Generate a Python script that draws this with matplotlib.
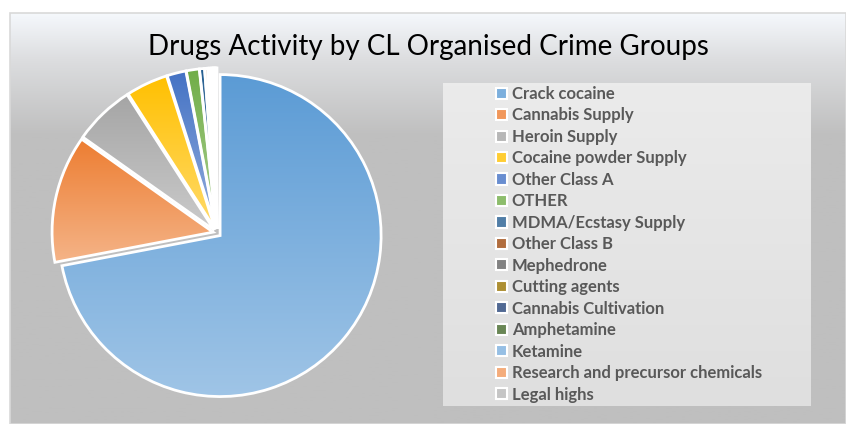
import matplotlib
matplotlib.use('Agg')

import matplotlib.pyplot as plt
from matplotlib.colors import to_rgb
from matplotlib.patches import Rectangle
import numpy as np

# data
categories = [
    "Crack cocaine", "Cannabis Supply", "Heroin Supply", "Cocaine powder Supply",
    "Other Class A", "OTHER", "MDMA/Ecstasy Supply", "Other Class B", "Mephedrone",
    "Cutting agents", "Cannabis Cultivation", "Amphetamine", "Ketamine",
    "Research and precursor chemicals", "Legal highs",
]
counts = [720, 128, 61, 42, 19, 13, 5, 3, 2, 2, 1, 1, 1, 1, 1]

colors = ['#5B9BD5', '#ED7D31', '#A5A5A5', '#FFC000', '#4472C4', '#70AD47',
          '#255E91', '#9E480E', '#636363', '#997300', '#264478', '#43682B',
          '#7CAFDD', '#F1975A', '#B7B7B7']

W, H = 846, 424
FONT = ['Lato', 'DejaVu Sans']


def lighten(c, amt):
    r = np.array(to_rgb(c))
    return r + (1 - r) * amt


fig = plt.figure(figsize=(W / 100, H / 100), dpi=100)

# background in pixel coordinates
bg = fig.add_axes([0, 0, 1, 1])
bg.set_xlim(0, W)
bg.set_ylim(H, 0)
bg.axis('off')

ys = np.linspace(13, H, 300)
stops_y = [13, 60, 135, H]
stops_c = np.array([to_rgb('#F5F8FC'), to_rgb('#DCDDDF'), to_rgb('#BFBFBF'), to_rgb('#BFBFBF')])
grad = np.stack([np.interp(ys, stops_y, stops_c[:, k]) for k in range(3)], axis=-1)[:, None, :]
bg.imshow(grad, extent=(10, W, H, 13), aspect='auto', origin='upper', zorder=0)
bg.add_patch(Rectangle((10, 13), W - 10, H - 13, fill=False, edgecolor='#D9D9D9', lw=1.2, zorder=1))

# legend panel
lg = np.linspace(0, 1, 100)
lgrad = (np.outer(1 - lg, to_rgb('#EBEBEB')) + np.outer(lg, to_rgb('#DFDFDF')))[:, None, :]
bg.imshow(lgrad, extent=(443, 811, 406, 83), aspect='auto', origin='upper', zorder=2)

bg.text(428, 47, "Drugs Activity by CL Organised Crime Groups", ha='center', va='center',
        fontsize=20, family=FONT, color='#000000')

# pie
cx, cy, r = 217, 233, 161
lim = 1.06
ax = fig.add_axes([(cx - r * lim) / W, (H - cy - r * lim) / H, 2 * r * lim / W, 2 * r * lim / H])
wedges, _ = ax.pie(counts, colors=colors, startangle=90, counterclock=False,
                   explode=[0.025] * len(counts),
                   wedgeprops=dict(edgecolor='white', linewidth=2.0))

for w, c in zip(wedges, colors):
    v = w.get_path().vertices
    y0, y1 = v[:, 1].min(), v[:, 1].max()
    t = np.linspace(0, 1, 200)
    g = (np.outer(1 - t, lighten(c, 0.0)) + np.outer(t, lighten(c, 0.42)))[:, None, :]
    im = ax.imshow(g, extent=(-lim, lim, y0, y1), aspect='auto', origin='upper', zorder=1)
    im.set_clip_path(w)
    w.set_facecolor('none')
    w.set_zorder(2)

ax.set_xlim(-lim, lim)
ax.set_ylim(-lim, lim)
ax.set_aspect('equal')
ax.axis('off')

handles = [Rectangle((0, 0), 1, 1, facecolor=lighten(c, 0.2), edgecolor='white', lw=1.5)
           for c in colors]
fig.legend(handles, categories, loc='upper left', bbox_to_anchor=(496 / W, 1 - 86 / H),
           frameon=False, prop={'family': FONT, 'size': 12, 'weight': 'bold'},
           labelcolor='#595959', handlelength=0.65, handleheight=0.65, handletextpad=0.3,
           labelspacing=0.328, borderpad=0, borderaxespad=0)

fig.savefig('out.png', dpi=100)
plt.close(fig)
